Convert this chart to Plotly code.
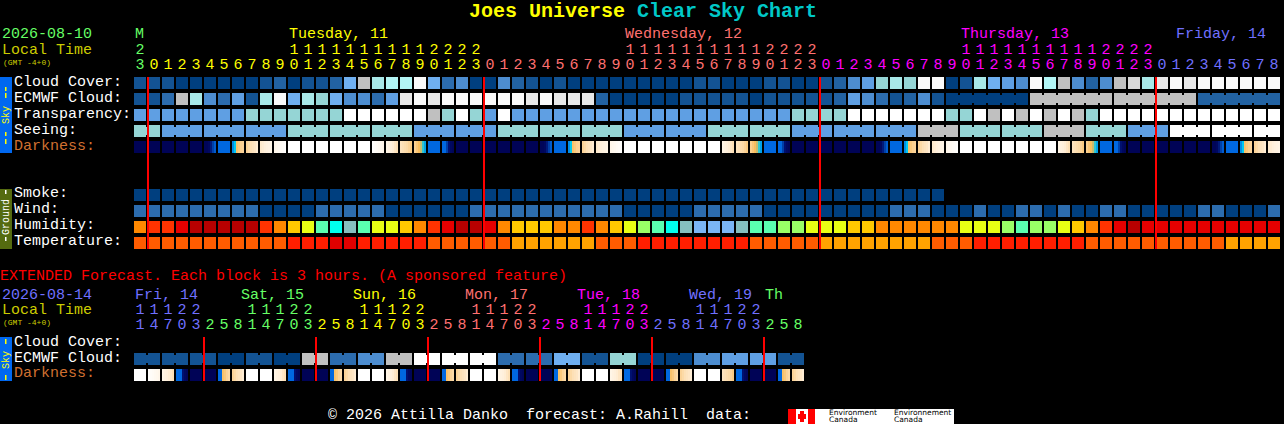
import plotly.graph_objects as go

W, H = 1284, 424
MONO = "Liberation Mono"

# ---------- data ----------
sky_levels = ["#003F7F", "#135393", "#2262A2", "#2C6CAE", "#4D8DD0", "#5F9FE3", "#6FAFF0",
              "#95D5D5", "#A8E8E8", "#B2F5F5", "#C0C0C0", "#D8D8D8", "#E8E8E8", "#FAFAFA", "#FFFFFF"]
ground_levels = {"o": "#FF8800", "r": "#FF3300", "e": "#E60000", "d": "#B80000", "y": "#FFC800",
                 "v": "#E8FF14", "l": "#99FF66", "g": "#5AFFB0", "c": "#00FFEE", "t": "#85BFBF",
                 "b": "#7AB5F5", "A": "#FFA200", "O": "#FF5C00", "R": "#FF1E00", "D": "#E00000"}

cloud_cover = [1,1,1,0,0,0,0,0,0,1,2,0,1,1,2,6,10,8,9,9,13,6,3,4,0,0,4,2,1,0,1,0,0,0,0,0,0,0,0,0,1,1,
               0,0,0,1,1,0,0,1,2,4,5,7,8,7,13,13,0,1,8,6,5,4,13,9,10,4,2,4,10,11,8,12,13,12,13,13,13,13,13,13]
ecmwf_cloud = [1,1,3,10,8,4,3,5,1,8,13,6,8,7,6,4,4,3,5,12,13,12,13,13,13,13,13,13,12,13,12,12,12,2,0,0,0,0,0,
               1,1,1,1,1,0,1,1,1,1,1,2,5,4,3,1,2,4,1,0,0,0,0,0,0,10,10,10,10,10,10,10,10,10,10,10,10,2,2,2,2,2,2]
ecmwf_blocks = [58, 6, 6, 6, 6]          # first block start, then lengths of the joined runs
transparency = [5]*8 + [7]*7 + [14]*6 + [10,7,14,7,5,14] + [5]*20 + [7]*4 + [14]*7 + \
               [7,7,14,10,14,10,14,10,14,10,7] + [14]*13
seeing = [7,7] + [5]*9 + [7]*9 + [5]*6 + [7]*9 + [5]*6 + [7]*6 + [5]*9 + [10]*3 + [7]*6 + [10]*3 + \
         [7]*3 + [5]*3 + [14]*8
seeing_blocks = [2] + [3]*26 + [2]

n = 0.02
a1 = [0.03, 0.03, 0.05, 0.12, 0.2, 0.27]
a2 = [0.3]
a3 = [0.34, 0.4, 0.54, 0.57, 0.6, 0.62]
a4 = [0.62, 0.66, 0.7, 0.72, 0.74, 0.78]
a5 = [0.76, 0.78, 0.8, 0.82, 0.84, 0.86]
a6 = [0.88, 0.9, 0.92, 0.94, 0.96, 0.98]
b1 = [0.98, 0.96, 0.94, 0.92, 0.9, 0.88]
b2 = [0.86, 0.82, 0.8, 0.78, 0.74, 0.7]
b3 = [0.72, 0.7, 0.68, 0.66, 0.62, 0.58]
b4 = [0.6, 0.56, 0.52, 0.48, 0.42, 0.36]
b5 = [0.3, 0.3, 0.2, 0.1, 0.05, 0.03]
darkness = [n,n,n,n,n,a1,a2,a3,a4,a5,a6,1,1,1,1,1,1,b1,b2,b3,b4,a2,b5,
            n,n,n,n,n,n,a1,a2,a3,a4,a5,a6,1,1,1,1,1,1,1,b2,b3,b4,a2,b5,
            n,n,n,n,n,n,a1,a2,a3,a4,a5,a6,1,1,1,1,1,1,1,b2,b3,b4,a2,b5,
            n,n,n,n,n,n,a1,a2,a3,a4,a5]

smoke = [0]*58
wind = [3]*9 + [0]*4 + [3]*5 + [0]*6 + [3]*11 + [0]*5 + [3]*5 + [0]*9 + [3]*3 + [0]*3 + [3,0,0,3,3,0,3,0,0,3,3] + \
       [0]*5 + [3,3,0,0,0,3]
humidity = list("orre" "ddddd" "royvgctgvvyo" "redde" "oyyyoor" "oyvlgctbbbtggllvvvyy" "oooooo" "vvvlgllvy" "ored" "e" "eeeeeeeee")
temperature = list("OOOOOOOOOOO" "RRR" "DD" "RRRRR" "OOOOOO" "AAAAAA" "OOO" "RRRRRRRR" "OOOOO" "AAAAAAAA" "OOO" "RRRRRRRR" "OOOOOOOOOO" "AAAA")

hours_main = [23] + list(range(24)) + list(range(24)) + list(range(24)) + list(range(9))
day_colors = {"M": "#66FF66", "Tu": "#FFFF00", "We": "#FF7070", "Th": "#FF00FF", "Fr": "#7070FF"}
hour_days = ["M"] + ["Tu"]*24 + ["We"]*24 + ["Th"]*24 + ["Fr"]*9

ext_hours = [11,14,17,20,23] + [2,5,8,11,14,17,20,23]*5 + [2,5,8]
ext_days = ["Fr"]*5 + ["Sa"]*8 + ["Su"]*8 + ["Mo"]*8 + ["Tu"]*8 + ["We"]*8 + ["Th2"]*3
ext_day_colors = {"Fr": "#7070FF", "Sa": "#66FF66", "Su": "#FFFF00", "Mo": "#FF7070", "Tu": "#FF00FF",
                  "We": "#7070FF", "Th2": "#66FF66"}
ext_ecmwf = [1,1,1,0,1,0,10,3,4,10,14,14,14,3,3,6,1,7,0,0,4,5,5,1]     # one value per 6-hour pair
ew = 1
dawn_ext = [0.3, 0.3, 0.54, 0.57, 0.62, 0.66]
dusk_ext = [0.3, 0.3, 0.3, 0.1, 0.05, 0.03]
ext_darkness = [ew, b1, b2, dusk_ext, n, n, dawn_ext, a4,
                ew, ew, b2, dusk_ext, n, n, dawn_ext, a4,
                ew, ew, b2, dusk_ext, n, n, dawn_ext, a4,
                ew, ew, b2, dusk_ext, n, n, dawn_ext, a4,
                ew, ew, b2, dusk_ext, n, n, dawn_ext, a4,
                ew, ew, b3, dusk_ext, n, n, dawn_ext, a4]

midnights_main = [1, 25, 49, 73]
midnights_ext = [5, 13, 21, 29, 37, 45]

dark_scale = [[0, "#00004F"], [0.1, "#001070"], [0.2, "#0040A8"], [0.3, "#0068E0"], [0.4, "#00C8F0"],
              [0.5, "#F8B850"], [0.6, "#FBD090"], [0.8, "#FFF0DC"], [1, "#FFFFFF"]]

for row in (cloud_cover, ecmwf_cloud, transparency, seeing, wind, humidity, temperature, darkness, hours_main):
    assert len(row) == 82, len(row)

# ---------- layout helpers ----------
ground_names = list(ground_levels)
palette = sky_levels + [ground_levels[k] for k in ground_names]
PN = len(palette)
disc = []
for k, c in enumerate(palette):
    disc += [[k / PN, c], [(k + 1) / PN, c]]
code = lambda s: [len(sky_levels) + ground_names.index(c) for c in s]

def yrange(c0, pitch):
    return [(H - c0) / pitch, -c0 / pitch]

pad = lambda v, m: list(v) + [None] * (m - len(v))
half = 6 / 14
fig = go.Figure()

def cells(z, y, yaxis):
    fig.add_trace(go.Heatmap(z=z, y=y, x=list(range(len(z[0]))), yaxis=yaxis, colorscale=disc, zmin=0,
                             zmax=PN, xgap=2, ygap=4, showscale=False, hoverinfo="skip"))

def bridges(values, blocks, row, yaxis, start=0):
    xs, zs = [], []
    p = start
    for b in blocks:
        for k in range(p, p + b - 1):
            xs += [k + half, k + 1 - half]
            zs += [values[k], None]
        p += b
    zs = zs[:-1]
    fig.add_trace(go.Heatmap(z=[[v + 0.5 if v is not None else None for v in zs]], x=xs, y=[row - 0.25, row + 0.25],
                             yaxis=yaxis, colorscale=disc, zmin=0, zmax=PN, showscale=False, hoverinfo="skip"))

def dark_row(values, row, yaxis):
    xs, zs = [], []
    for i, v in enumerate(values):
        segs = v if isinstance(v, list) else [v]
        for j, s in enumerate(segs):
            xs.append(i - half + j * 2 * half / len(segs))
            zs.append(s)
        xs.append(i + half)
        zs.append(None)
    zs = zs[:-1]
    fig.add_trace(go.Heatmap(z=[zs], x=xs, y=[row - 6 / 16, row + 6 / 16], yaxis=yaxis, colorscale=dark_scale,
                             zmin=0, zmax=1, showscale=False, hoverinfo="skip"))

def half_shift(rows):
    return [[None if v is None else v + 0.5 for v in r] for r in rows]

# main sky rows (y), ground rows (y2), extended rows (y3)
cells(half_shift([cloud_cover, ecmwf_cloud, transparency, seeing]), [0, 1, 2, 3], "y")
bridges(seeing, seeing_blocks, 3, "y")
bridges(ecmwf_cloud, ecmwf_blocks[1:], 1, "y", start=ecmwf_blocks[0])
dark_row(darkness, 4, "y")

cells(half_shift([pad(smoke, 82), wind, code(humidity), code(temperature)]), [0, 1, 2, 3], "y2")

ext_cells = [v for v in ext_ecmwf for _ in (0, 1)]
cells(half_shift([ext_cells]), [0], "y3")
bridges(ext_cells, [2] * 24, 0, "y3")
dark_row(ext_darkness, 1, "y3")

# hour digits
units = [str(h % 10) for h in hours_main]
tens = [str(h // 10) if h >= 10 else "" for h in hours_main]
colors = [day_colors[d] for d in hour_days]
fig.add_trace(go.Scatter(x=list(range(82)), y=[1] * 82, mode="text", text=tens, yaxis="y4", hoverinfo="skip",
                         textfont=dict(family=MONO, size=15, color=colors)))
fig.add_trace(go.Scatter(x=list(range(82)), y=[2] * 82, mode="text", text=units, yaxis="y4", hoverinfo="skip",
                         textfont=dict(family=MONO, size=15, color=colors)))
e_units = [str(h % 10) for h in ext_hours]
e_tens = [str(h // 10) if h >= 10 else "" for h in ext_hours]
e_colors = [ext_day_colors[d] for d in ext_days]
fig.add_trace(go.Scatter(x=list(range(48)), y=[1] * 48, mode="text", text=e_tens, yaxis="y5", hoverinfo="skip",
                         textfont=dict(family=MONO, size=15, color=e_colors)))
fig.add_trace(go.Scatter(x=list(range(48)), y=[2] * 48, mode="text", text=e_units, yaxis="y5", hoverinfo="skip",
                         textfont=dict(family=MONO, size=15, color=e_colors)))

# ---------- text ----------
ann = []
def label(txt, x, y, color="#FFFFFF", size=15, bold=False, anchor="left", angle=0, family=MONO):
    t = f"<b>{txt}</b>" if bold else txt
    ann.append(dict(text=t, x=x / W, y=1 - y / H, xref="paper", yref="paper", showarrow=False,
                    xanchor=anchor, yanchor="middle", textangle=angle,
                    font=dict(family=family, size=size, color=color), borderpad=0, borderwidth=0))

label('Joes Universe <span style="color:#00C8C8">Clear Sky Chart</span>', 469, 12, "#FFFF00", 20, True)
label("2026-08-10", 2, 35, "#66FF66")
label("Local Time", 2, 50, "#CCCC00")
label("(GMT -4+0)", 3, 62, "#CCCC00", 8)
for txt, x, c in [("M", 135, "#66FF66"), ("Tuesday, 11", 289, "#FFFF00"), ("Wednesday, 12", 625, "#FF7070"),
                  ("Thursday, 13", 961, "#FF00FF"), ("Friday, 14", 1176, "#7070FF")]:
    label(txt, x, 35, c)
for txt, y, c in [("Cloud Cover:", 82, "#FFFFFF"), ("ECMWF Cloud:", 98, "#FFFFFF"), ("Transparency:", 114, "#FFFFFF"),
                  ("Seeing:", 130, "#FFFFFF"), ("Darkness:", 146, "#D07030"), ("Smoke:", 193, "#FFFFFF"),
                  ("Wind:", 209, "#FFFFFF"), ("Humidity:", 225, "#FFFFFF"), ("Temperature:", 241, "#FFFFFF"),
                  ("Cloud Cover:", 342, "#FFFFFF"), ("ECMWF Cloud:", 358, "#FFFFFF"), ("Darkness:", 373, "#D07030")]:
    label(txt, 14, y, c)
label("EXTENDED Forecast. Each block is 3 hours. (A sponsored feature)", 0, 276, "#FF0000")
label("2026-08-14", 2, 295, "#7070FF")
label("Local Time", 2, 310, "#CCCC00")
label("(GMT -4+0)", 3, 322, "#CCCC00", 8)
for txt, x, c in [("Fri, 14", 135, "#7070FF"), ("Sat, 15", 241, "#66FF66"), ("Sun, 16", 353, "#FFFF00"),
                  ("Mon, 17", 465, "#FF7070"), ("Tue, 18", 577, "#FF00FF"), ("Wed, 19", 689, "#7070FF"),
                  ("Th", 765, "#66FF66")]:
    label(txt, x, 295, c)
label("© 2026 Attilla Danko  forecast: A.Rahill  data:".replace(" ", "\u00a0"), 328, 415, "#FFFFFF")
label("Sky", 6, 115, "#FFFF00", 10, anchor="center", angle=-90)
label("Ground", 6, 217, "#FFFFFF", 10, anchor="center", angle=-90)
label("Sky", 6, 360, "#FFFF00", 10, anchor="center", angle=-90)
for txt, x in [("Environment", 829), ("Environnement", 894)]:
    label(txt, x, 412, "#000000", 7.5, family="DejaVu Sans")
for x in (829, 894):
    label("Canada", x, 419.5, "#000000", 7.5, family="DejaVu Sans")

# ---------- shapes ----------
def paper_rect(x0, y0, x1, y1, color, layer="above"):
    return dict(type="rect", xref="paper", yref="paper", x0=x0 / W, x1=x1 / W, y0=1 - y0 / H, y1=1 - y1 / H,
                fillcolor=color, line=dict(width=0), layer=layer)

shapes = [paper_rect(0, 77, 12, 153, "#0068F0", "below"), paper_rect(0, 189, 12, 249, "#556B10", "below"),
          paper_rect(0, 337, 12, 381, "#0068F0", "below"),
          paper_rect(788, 409, 954, 424, "#FFFFFF", "below"), paper_rect(788, 409, 796, 424, "#FF0000", "below"),
          paper_rect(808, 409, 815, 424, "#FF0000", "below"), paper_rect(800, 411, 804, 422, "#FF0000", "below"),
          paper_rect(798, 414, 806, 419, "#FF0000", "below")]
# the little dashes on the side tabs
for y0, y1, c in [(87, 91, "#FFFF00"), (93, 98, "#FFFF00"), (132, 136, "#FFFF00"), (139, 144, "#FFFF00"),
                  (190, 194, "#FFFFFF"), (237, 241, "#FFFFFF"), (339, 344, "#FFFF00"), (375, 380, "#FFFF00")]:
    shapes.append(paper_rect(5, y0, 6.5, y1, c, "below"))
line_off = 8 / 14 - 1
line_half = 1 / 14
for mids, y0, y1 in [(midnights_main, 77, 249), (midnights_ext, 337, 381)]:
    for m in mids:
        shapes.append(dict(type="rect", xref="x", yref="paper", x0=m + line_off - line_half, x1=m + line_off + line_half,
                           y0=1 - y0 / H, y1=1 - y1 / H, fillcolor="#FF0000", line=dict(width=0), layer="above"))

hidden = dict(visible=False, showgrid=False, zeroline=False, domain=[0, 1], fixedrange=True, autorange=False)
fig.update_layout(
    width=W, height=H, margin=dict(l=0, r=0, t=0, b=0), paper_bgcolor="#000000", plot_bgcolor="#000000",
    showlegend=False, annotations=ann, shapes=shapes,
    xaxis=dict(range=[-140 / 14, (W - 140) / 14], **hidden),
    yaxis=dict(range=yrange(83, 16), **hidden),
    yaxis2=dict(range=yrange(195, 16), overlaying="y", **hidden),
    yaxis3=dict(range=yrange(359, 16), overlaying="y", **hidden),
    yaxis4=dict(range=yrange(35, 15), overlaying="y", **hidden),
    yaxis5=dict(range=yrange(295, 15), overlaying="y", **hidden),
)
fig.write_html("out.html", config=dict(displayModeBar=False, responsive=False),
               post_script="document.body.style.margin='0';document.body.style.background='#000';document.documentElement.style.overflow='hidden';")
